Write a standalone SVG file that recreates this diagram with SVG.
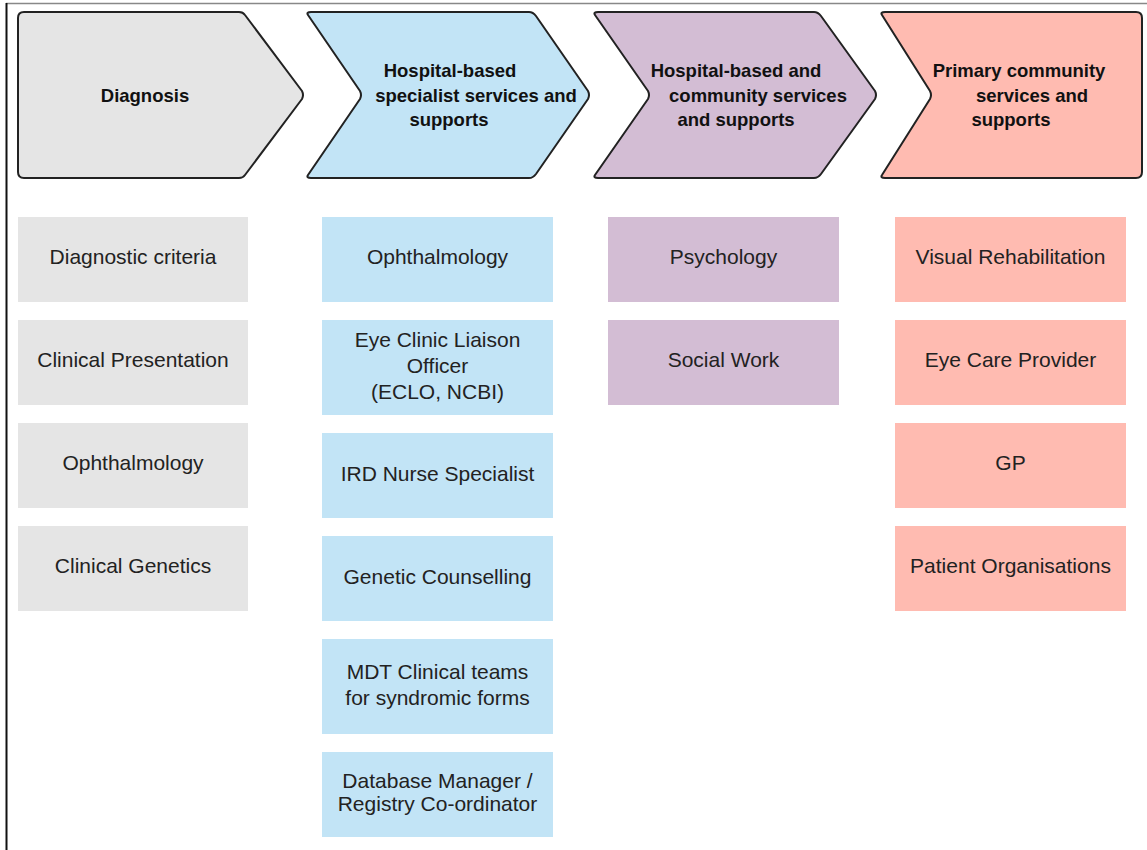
<svg xmlns="http://www.w3.org/2000/svg" width="1147" height="850" viewBox="0 0 1147 850">
<style>
.chev{stroke:#222;stroke-width:2;stroke-linejoin:round}
.hd{font-family:"Liberation Sans",Arial,sans-serif;font-weight:bold;font-size:18.5px;fill:#111;text-anchor:middle}
.bx{font-family:"Liberation Sans",Arial,sans-serif;font-size:21px;fill:#222;text-anchor:middle}
.g{fill:#e5e5e5}.b{fill:#c2e4f6}.p{fill:#d3bdd4}.r{fill:#ffbbb1}
</style>
<rect x="0" y="0" width="1147" height="850" fill="#fff"/>
<g id="frame">
<line x1="6" y1="3.5" x2="1147" y2="3.5" stroke="#888" stroke-width="1.5"/>
<line x1="6.5" y1="3" x2="6.5" y2="850" stroke="#111" stroke-width="2"/>
</g>
<g id="connectors"></g>
<g id="stage-diagnosis">
<path class="chev g" d="M18,18 Q18,12 24,12 L239,12 Q243,12 245,15 L302,91 Q304,95 302,99 L245,175 Q243,178 239,178 L24,178 Q18,178 18,172 Z"/>
<text class="hd" x="145" y="101.5">Diagnosis</text>
</g>
<g id="stage-hospital-specialist">
<path class="chev b" d="M311,12 L529,12 Q533,12 536,16 L588,91 Q590,95 588,99 L536,174 Q533,178 529,178 L311,178 Q306,178 308,175 L360,99 Q362,95 360,91 L308,15 Q306,12 311,12 Z"/>
<text class="hd" x="450" y="76.5">Hospital-based</text>
<text class="hd" x="476" y="101.5">specialist services and</text>
<text class="hd" x="449" y="125.5">supports</text>
</g>
<g id="stage-hospital-community">
<path class="chev p" d="M598,12 L814,12 Q818,12 821,16 L875,91 Q877,95 875,99 L821,174 Q818,178 814,178 L598,178 Q593,178 595,175 L648,99 Q650,95 648,91 L595,15 Q593,12 598,12 Z"/>
<text class="hd" x="736" y="76.5">Hospital-based and</text>
<text class="hd" x="758" y="101.5">community services</text>
<text class="hd" x="736" y="125.5">and supports</text>
</g>
<g id="stage-primary">
<path class="chev r" d="M885,12 L1136,12 Q1142,12 1142,18 L1142,172 Q1142,178 1136,178 L885,178 Q880,178 882,175 L930,99 Q932,95 930,91 L882,15 Q880,12 885,12 Z"/>
<text class="hd" x="1019" y="76.5">Primary community</text>
<text class="hd" x="1032" y="101.5">services and</text>
<text class="hd" x="1011" y="125.5">supports</text>
</g>
<g id="diag-criteria"><rect class="g" x="18" y="217" width="230" height="85"/><text class="bx" x="133" y="264">Diagnostic criteria</text></g>
<g id="diag-clinical-presentation"><rect class="g" x="18" y="320" width="230" height="85"/><text class="bx" x="133" y="367">Clinical Presentation</text></g>
<g id="diag-ophthalmology"><rect class="g" x="18" y="423" width="230" height="85"/><text class="bx" x="133" y="470">Ophthalmology</text></g>
<g id="diag-clinical-genetics"><rect class="g" x="18" y="526" width="230" height="85"/><text class="bx" x="133" y="573">Clinical Genetics</text></g>
<g id="hosp-ophthalmology"><rect class="b" x="322" y="217" width="231" height="85"/><text class="bx" x="437.5" y="264">Ophthalmology</text></g>
<g id="hosp-eclo"><rect class="b" x="322" y="320" width="231" height="95"/><text class="bx" x="437.5" y="347">Eye Clinic Liaison</text><text class="bx" x="437.5" y="373">Officer</text><text class="bx" x="437.5" y="399">(ECLO, NCBI)</text></g>
<g id="hosp-ird-nurse"><rect class="b" x="322" y="433" width="231" height="85"/><text class="bx" x="437.5" y="481">IRD Nurse Specialist</text></g>
<g id="hosp-genetic-counselling"><rect class="b" x="322" y="536" width="231" height="85"/><text class="bx" x="437.5" y="584">Genetic Counselling</text></g>
<g id="hosp-mdt"><rect class="b" x="322" y="639" width="231" height="95"/><text class="bx" x="437.5" y="679">MDT Clinical teams</text><text class="bx" x="437.5" y="705">for syndromic forms</text></g>
<g id="hosp-database"><rect class="b" x="322" y="752" width="231" height="85"/><text class="bx" x="437.5" y="788">Database Manager /</text><text class="bx" x="437.5" y="811">Registry Co-ordinator</text></g>
<g id="comm-psychology"><rect class="p" x="608" y="217" width="231" height="85"/><text class="bx" x="723.5" y="264">Psychology</text></g>
<g id="comm-social-work"><rect class="p" x="608" y="320" width="231" height="85"/><text class="bx" x="723.5" y="367">Social Work</text></g>
<g id="prim-visual-rehab"><rect class="r" x="895" y="217" width="231" height="85"/><text class="bx" x="1010.5" y="264">Visual Rehabilitation</text></g>
<g id="prim-eye-care"><rect class="r" x="895" y="320" width="231" height="85"/><text class="bx" x="1010.5" y="367">Eye Care Provider</text></g>
<g id="prim-gp"><rect class="r" x="895" y="423" width="231" height="85"/><text class="bx" x="1010.5" y="470">GP</text></g>
<g id="prim-patient-orgs"><rect class="r" x="895" y="526" width="231" height="85"/><text class="bx" x="1010.5" y="573">Patient Organisations</text></g>
</svg>
